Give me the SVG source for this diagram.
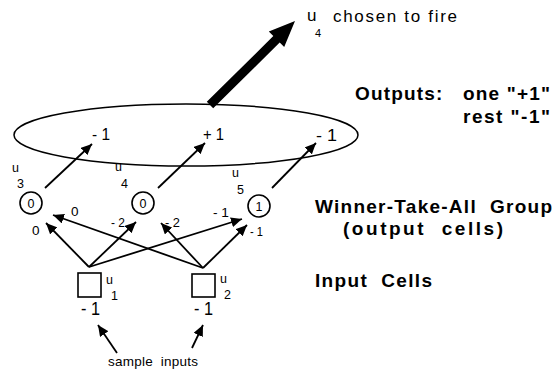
<svg xmlns="http://www.w3.org/2000/svg" width="558" height="375" viewBox="0 0 558 375">
<style>
.t{font-family:"Liberation Sans",Arial,sans-serif;fill:#000}
.b{font-family:"Liberation Sans",Arial,sans-serif;font-weight:bold;fill:#000;white-space:pre}
.s{font-size:12.5px}
.w{font-size:13.5px}
.v{font-size:17px}
.lbl{font-size:19px}
.ln{stroke:#000;stroke-width:1.8;fill:none}
.sh{fill:#fff;stroke:#000;stroke-width:1.6}
</style>
<defs>
<marker id="ah" markerUnits="userSpaceOnUse" markerWidth="12" markerHeight="10" refX="11" refY="5" orient="auto">
<path d="M0,0 L11,5 L0,10 Z" fill="#000"/>
</marker>
</defs>
<rect width="558" height="375" fill="#fff"/>

<g id="output-group">
<ellipse cx="186" cy="135" rx="172" ry="31" fill="none" stroke="#000" stroke-width="1.5"/>
<text class="t v" x="92" y="140" textLength="18" lengthAdjust="spacingAndGlyphs">- 1</text>
<text class="t v" x="203" y="140" textLength="21" lengthAdjust="spacingAndGlyphs">+ 1</text>
<text class="t v" x="316" y="141" textLength="21" lengthAdjust="spacingAndGlyphs">- 1</text>
</g>

<g id="fire-arrow">
<polygon points="213.2,108.2 279.7,42.5 284.2,47.1 295,21 268.8,31.5 273.3,36.1 206.8,101.8" fill="#000"/>
<text class="t v" x="307" y="21">u</text>
<text class="t" style="font-size:11px" x="315" y="37">4</text>
<text class="t v" x="333" y="22" textLength="124" lengthAdjust="spacing">chosen to fire</text>
</g>

<g id="u3">
<circle cx="31" cy="203" r="11" class="sh"/>
<text class="t s" x="31" y="207.5" text-anchor="middle">0</text>
<text class="t s" x="12" y="172">u</text>
<text class="t s" x="17" y="188">3</text>
</g>
<g id="u4">
<circle cx="143" cy="203" r="11" class="sh"/>
<text class="t s" x="143" y="207.5" text-anchor="middle">0</text>
<text class="t s" x="115" y="171">u</text>
<text class="t s" x="121" y="188">4</text>
</g>
<g id="u5">
<circle cx="259" cy="206" r="11" class="sh"/>
<text class="t s" x="259" y="210.5" text-anchor="middle">1</text>
<text class="t s" x="232" y="177">u</text>
<text class="t s" x="237" y="194">5</text>
</g>

<g id="u1">
<rect x="78" y="273" width="23" height="24" class="sh"/>
<text class="t s" x="106" y="284">u</text>
<text class="t s" x="111" y="300">1</text>
<text class="t" style="font-size:18px" x="81" y="315" textLength="19" lengthAdjust="spacingAndGlyphs">- 1</text>
</g>
<g id="u2">
<rect x="192" y="274" width="23" height="23" class="sh"/>
<text class="t s" x="220" y="283">u</text>
<text class="t s" x="224" y="299">2</text>
<text class="t" style="font-size:18px" x="194" y="315" textLength="19" lengthAdjust="spacingAndGlyphs">- 1</text>
</g>

<g id="connectors">
<line class="ln" x1="45" y1="188" x2="92" y2="144" marker-end="url(#ah)"/>
<line class="ln" x1="158" y1="188" x2="205" y2="143" marker-end="url(#ah)"/>
<line class="ln" x1="272" y1="188" x2="316" y2="143" marker-end="url(#ah)"/>

<line class="ln" x1="89" y1="267" x2="46" y2="223" marker-end="url(#ah)"/>
<line class="ln" x1="89" y1="267" x2="136" y2="222" marker-end="url(#ah)"/>
<line class="ln" x1="89" y1="267" x2="242" y2="219" marker-end="url(#ah)"/>
<line class="ln" x1="203" y1="268" x2="53" y2="215" marker-end="url(#ah)"/>
<line class="ln" x1="203" y1="268" x2="161" y2="223" marker-end="url(#ah)"/>
<line class="ln" x1="203" y1="268" x2="247" y2="225" marker-end="url(#ah)"/>

<text class="t w" x="32" y="235">0</text>
<text class="t w" x="71" y="216">0</text>
<text class="t w" x="111" y="227" textLength="14" lengthAdjust="spacingAndGlyphs">- 2</text>
<text class="t w" x="165" y="227" textLength="15" lengthAdjust="spacingAndGlyphs">- 2</text>
<text class="t w" x="213" y="217" textLength="16" lengthAdjust="spacingAndGlyphs">- 1</text>
<text class="t w" x="250" y="236" textLength="13" lengthAdjust="spacingAndGlyphs">- 1</text>

<line class="ln" x1="117" y1="353" x2="98" y2="325" marker-end="url(#ah)"/>
<line class="ln" x1="192" y1="348" x2="203" y2="325" marker-end="url(#ah)"/>
<text class="t w" style="white-space:pre" x="108" y="366" textLength="90" lengthAdjust="spacing">sample  inputs</text>
</g>

<g id="labels">
<text class="b lbl" x="355" y="100" textLength="195" lengthAdjust="spacing">Outputs:   one "+1"</text>
<text class="b lbl" x="463" y="123" textLength="87" lengthAdjust="spacing">rest "-1"</text>
<text class="b lbl" x="315" y="213" textLength="237" lengthAdjust="spacing">Winner-Take-All  Group</text>
<text class="b lbl" x="343" y="235" textLength="160" lengthAdjust="spacing">(output  cells)</text>
<text class="b lbl" x="315" y="287" textLength="117" lengthAdjust="spacing">Input  Cells</text>
</g>
</svg>
